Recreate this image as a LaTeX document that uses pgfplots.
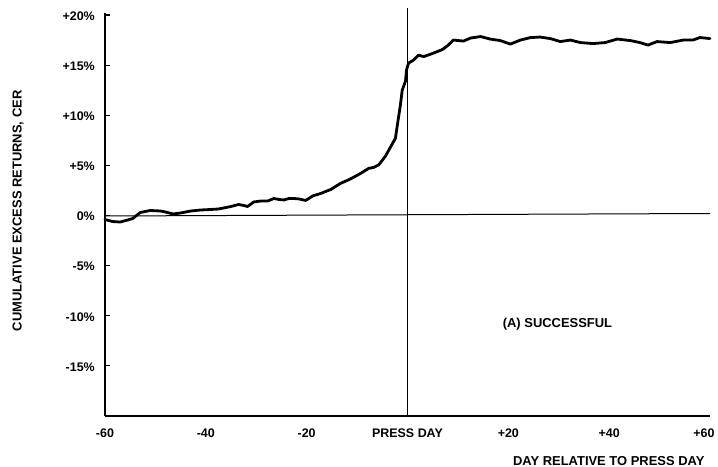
\documentclass[border=0pt]{standalone}
\usepackage{pgfplots}
\pgfplotsset{compat=1.18}
\usepackage{fontspec}
\setmainfont{Liberation Sans}
\newcommand{\lf}{\fontsize{13}{15}\selectfont\bfseries}
\newcommand{\tf}{\fontsize{12.5}{15}\selectfont\bfseries}
\begin{document}
\begin{tikzpicture}
\useasboundingbox (-105bp,-51bp) rectangle (613bp,416bp);
\begin{axis}[
  scale only axis,
  width=605bp, height=403bp,
  at={(0,0)}, anchor=south west,
  xmin=-60, xmax=60, ymin=-20, ymax=20.2,
  clip=false,
  axis x line=bottom, axis y line=left,
  axis line style={-, line width=1.5bp},
  xtick={-60,-40,-20,0,20,40,60},
  xticklabels={-60,-40,-20,PRESS DAY,+20,+40,\hspace*{-12bp}+60},
  x tick style={draw=none},
  extra x ticks={-40,-20,20,40},
  extra x tick labels={},
  extra x tick style={major tick length=6bp, tick align=inside, line width=1.2bp, draw=black},
  ytick={-15,-10,-5,0,5,10,15,20},
  yticklabels={-15\%,-10\%,-5\%,0\%,+5\%,+10\%,+15\%,+20\%},
  y tick style={line width=1.2bp, black},
  major tick length=5bp,
  tick align=inside,
  xticklabel style={font=\tf, inner sep=0pt, anchor=north, yshift=-12.5bp},
  yticklabel style={font=\tf, inner sep=0pt, anchor=east, xshift=-10bp, yshift=-1bp},
  every axis y label/.style={at={(axis description cs:-0.1438,0.509)}, rotate=90, anchor=center, font=\lf},
  every axis x label/.style={at={(axis description cs:0.9967,-0.1117)}, anchor=east, font=\lf},
  ylabel={CUMULATIVE EXCESS RETURNS, CER},
  xlabel={DAY RELATIVE TO PRESS DAY},
]
% zero reference line
\addplot[black, line width=1bp] coordinates {(-60,-0.05) (60,0.2)};
% press day line
\addplot[black, line width=1.3bp] coordinates {(0,-20) (0,20.7)};
% CER curve
\addplot[black, line width=2.8bp, line join=round, line cap=round] coordinates {
(-60,-0.4) (-58.5,-0.6) (-57,-0.65) (-55.5,-0.45) (-54.5,-0.3) (-53.5,0.1) (-53,0.3)
(-51,0.5) (-49,0.45) (-48,0.35) (-46.5,0.15) (-45,0.25) (-43,0.45) (-41,0.55)
(-39,0.6) (-37.5,0.65) (-36,0.8) (-35,0.9) (-33.5,1.1) (-32.5,1.0) (-31.7,0.9)
(-30.5,1.35) (-29,1.45) (-27.7,1.45) (-26.5,1.7) (-25.5,1.6) (-24.5,1.55) (-23.5,1.7)
(-22.6,1.7) (-21.5,1.65) (-20.2,1.5) (-18.8,1.95) (-17.2,2.2) (-15.2,2.6) (-13.3,3.2)
(-11.3,3.65) (-9.3,4.2) (-7.7,4.7) (-6.7,4.8) (-5.7,5.05) (-4.4,5.9) (-3.4,6.8)
(-2.4,7.7) (-1.9,9.4) (-1.4,11.05) (-1.05,12.5) (-0.4,13.4) (-0.2,14.5) (0.2,15.2)
(1.2,15.5) (2.2,16.0) (3.2,15.85) (4.9,16.15) (6.9,16.55) (8.1,17.0) (9.1,17.5)
(11.1,17.4) (12.5,17.7) (14.5,17.85) (16.4,17.6) (18.4,17.45) (20.4,17.1) (22.4,17.5)
(24.4,17.75) (26.3,17.8) (28.3,17.65) (30.3,17.35) (32.3,17.5) (34.3,17.25) (36.8,17.15)
(39.2,17.25) (41.6,17.6) (44.2,17.45) (46.1,17.25) (47.7,17.0) (49.5,17.35) (52.1,17.25)
(54.7,17.5) (56.6,17.5) (58,17.75) (60,17.65)
};
\node[font=\lf, anchor=center] at (axis cs:29.75,-10.8) {(A) SUCCESSFUL};
\end{axis}
\end{tikzpicture}
\end{document}
